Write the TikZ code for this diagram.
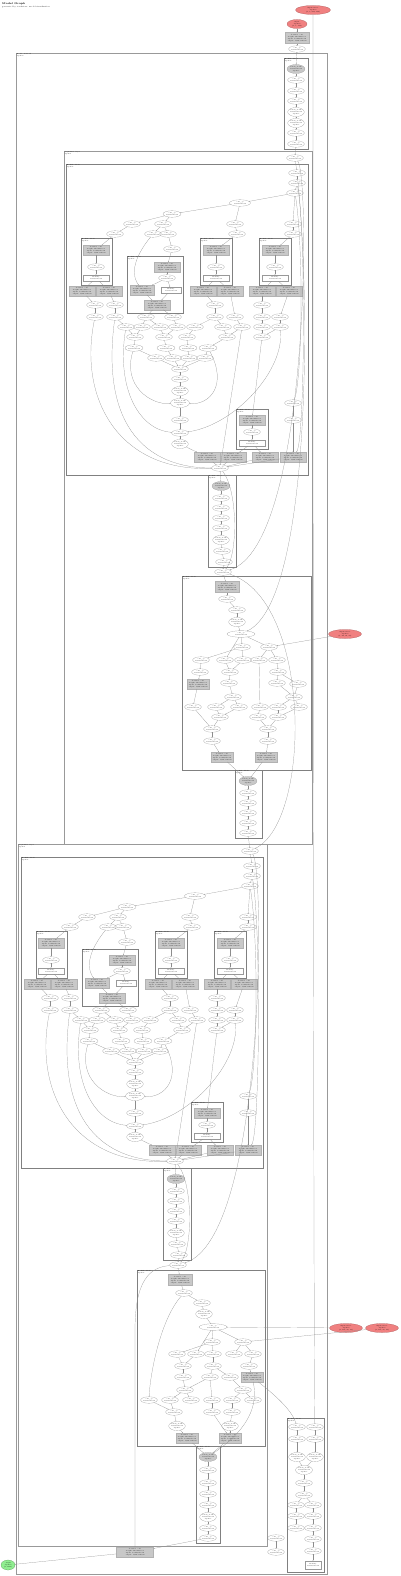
\documentclass[tikz,border=0pt]{standalone}
\usetikzlibrary{shapes.geometric,arrows.meta}
\definecolor{redn}{HTML}{F08080}
\definecolor{grn}{HTML}{90EE90}
\definecolor{gboxc}{HTML}{C8C8C8}
\newcommand\fs{\fontsize{1.5}{1.75}\selectfont}
\newcommand\tO{conv\_op\\1×64×56×56}
\newcommand\tT{batch\_norm\\1×64×56×56\\depth:3}
\newcommand\tG{Conv2d: conv\\weight: 64×64×3×3\\input: 1×64×56×56\\output: 1×64×56×56}
\newcommand\tW{Identity\\1×64×56×56}
\newcommand\tL{Module: block\\depth:2}
\tikzset{
 op/.style={ellipse, draw=black!45, line width=0.15pt, minimum width=15, minimum height=6.5, inner sep=0pt, font=\fs, align=center},
 gb/.style={rectangle, draw=black!30, fill=gboxc, line width=0.15pt, minimum width=26, minimum height=9.5, inner sep=0.2pt, font=\fs, align=center},
 wb/.style={rectangle, draw=black!40, line width=0.15pt, minimum width=26, minimum height=6, inner sep=0.2pt, font=\fs, align=center},
 clus/.style={draw=black!50, line width=0.25pt},
 bigclus/.style={draw=black!40, line width=0.9pt},
 lab/.style={anchor=north west, font=\fs, align=left, inner sep=0.5pt},
 e/.style={-{Stealth[length=0.9pt,width=0.7pt]}, draw=black!45, line width=0.2pt},
 rednode/.style={ellipse, fill=redn, draw=redn!70!black, line width=0.2pt, minimum width=33, minimum height=9, inner sep=0pt, font=\fs, align=center},
 grnnode/.style={ellipse, fill=grn, draw=grn!60!black, line width=0.2pt, minimum width=14, minimum height=10, inner sep=0pt, font=\fs, align=center},
}
\newcommand\Op[4][]{\node[op,#1] (#2) at (#3,#4) {\tO};}
\newcommand\Ot[4][]{\node[op,minimum height=9,#1] (#2) at (#3,#4) {\tT};}
\newcommand\Go[4][]{\node[op,fill=gboxc,minimum width=18,minimum height=9,#1] (#2) at (#3,#4) {\tT};}
\newcommand\Gb[4][]{\node[gb,#1] (#2) at (#3,#4) {\tG};}
\newcommand\Wb[4][]{\node[wb,#1] (#2) at (#3,#4) {\tW};}
\newcommand\Cl[4]{\draw[clus] (#1,#2) rectangle (#3,#4); \node[lab] at (#1,#2) {\tL};}
\newcommand\BigCl[4]{\draw[bigclus] (#1,#2) rectangle (#3,#4); \node[lab] at (#1,#2) {Sequential: layer\\depth:1};}

\newcommand\layerone[1]{%
\Cl{66}{164}{308}{475}
\Cl{81}{238}{112}{285}
\Cl{127}{256}{183}{313}
\Cl{200}{238}{232}{285}
\Cl{259}{238}{291}{285}
\Cl{236}{409}{268}{449}
\Cl{208}{475}{236}{567}
\Op{#1n0}{295}{158}
\Op{#1n1}{297}{173}
\Op{#1n2}{297}{183}
\Op{#1n3}{295}{193}
\Op[minimum width=21]{#1n4}{240}{203}
\Op[minimum width=18]{#1n5}{172}{214}
\Op{#1n6}{132}{224}\Op{#1n7}{163}{224}\Op{#1n8}{235}{224}\Op{#1n9}{293}{224}
\Op{#1n10}{115}{234}\Op[minimum width=14]{#1n11}{153}{234}\Op[minimum width=14]{#1n12}{168}{234}\Op{#1n13}{237}{234}\Op{#1n14}{293}{234}
\Op{#1n15}{172}{249}
\Gb{#1ga}{96}{250}\Op{#1ea}{96}{267}\Wb{#1wa}{96}{278}
\Gb{#1gb1}{167}{267}\Op{#1eb}{167}{278}\Gb[minimum width=24]{#1gb2}{142}{290}\Wb[minimum width=20]{#1wb}{171}{290}\Gb{#1gb3}{157}{305}
\Gb{#1gc}{216}{250}\Op{#1ec}{216}{267}\Wb{#1wc}{216}{278}
\Gb{#1gd}{275}{250}\Op{#1ed}{275}{267}\Wb{#1wd}{275}{278}
\Gb{#1g1}{82}{291}\Gb{#1g2}{109}{291}\Gb{#1g3}{203}{291}\Gb{#1g4}{230}{291}\Gb{#1g5}{262}{291}\Gb{#1g6}{289}{291}
\Op{#1e1}{95}{305}\Op{#1e2}{115}{305}\Op{#1e3}{215}{305}\Op{#1e4}{262}{305}
\Op{#1f1}{95}{317}\Op{#1f2}{115}{317}\Op{#1f3}{146}{317}\Op{#1f4}{173}{317}\Op{#1f5}{215}{317}\Op{#1f6}{235}{317}\Op{#1f7}{262}{317}\Op{#1f8}{280}{317}
\Op{#1h1}{126}{327}\Op{#1h2}{142}{327}\Op{#1h3}{160}{327}\Op{#1h4}{177}{327}\Op{#1h5}{195}{327}\Op{#1h6}{223}{327}\Op{#1h7}{242}{327}\Op{#1h8}{262}{327}\Op{#1h9}{280}{327}
\Op{#1i1}{135}{337}\Op{#1i2}{164}{337}\Op{#1i3}{187}{337}\Op{#1i4}{227}{337}\Op{#1i5}{262}{337}
\Op[minimum width=18]{#1j1}{134}{348}\Op[minimum width=18]{#1j2}{166}{348}\Op[minimum width=18]{#1j3}{188}{348}\Op[minimum width=18]{#1j4}{208}{348}
\Op{#1k1}{156}{358}\Op{#1k2}{173}{358}\Op{#1k3}{189}{358}\Op{#1k4}{205}{358}
\Op{#1m1}{180}{369}\Op{#1m2}{180}{379}\Ot{#1m3}{180}{391}\Ot[minimum width=19]{#1m4}{180}{403}\Op{#1m5}{180}{420}\Op{#1m6}{180}{433}\Ot{#1m7}{180}{444}
\Op{#1p1}{293}{403}\Op{#1p2}{293}{420}
\Gb{#1ge}{252}{420}\Op{#1ee}{252}{432}\Wb{#1we}{252}{443}
\Gb{#1q1}{207}{457}\Gb{#1q2}{233}{457}\Gb{#1q3}{265}{457}\Gb{#1q4}{293}{457}
\Op{#1s0}{220}{468}
\Go{#1t0}{221}{486}
\Op{#1t1}{221}{498}\Op{#1t2}{221}{508}\Op{#1t3}{221}{518}\Op{#1t4}{221}{528}\Ot{#1t5}{221}{540}\Op{#1t6}{222}{551}\Op{#1t7}{224}{562}
\Op{#1u0}{223}{572}
\foreach \a/\b in {n0/n1,n1/n2,n2/n3,n3/n4,n3/n9,n4/n5,n4/n8,n5/n6,n5/n7,n6/n10,n7/n11,n7/n12,n8/n13,n9/n14,n12/n15,n10/ga,ga/ea,ea/wa,wa/g1,wa/g2,n15/gb1,gb1/eb,eb/gb2,eb/wb,gb2/gb3,wb/gb3,n13/gc,gc/ec,ec/wc,wc/g3,wc/g4,n14/gd,gd/ed,ed/wd,wd/g5,wd/g6,g1/e1,g2/e2,g3/e3,g5/e4,e1/f1,e2/f2,gb3/f3,gb3/f4,e3/f5,g4/f6,e4/f7,g6/f8,f2/h1,f3/h2,f3/h3,f4/h4,f5/h5,f5/h6,f6/h7,f7/h8,f8/h9,h1/i1,h2/i1,h3/i2,h4/i2,h5/i3,h6/i4,h7/i4,h8/i5,h9/i5,i1/j1,i2/j2,i3/j3,i4/j4,j1/k1,j2/k2,j3/k3,j4/k4,k1/m1,k2/m1,k3/m1,k4/m1,m1/m2,m2/m3,m3/m4,m4/m5,m5/m6,m6/m7,m7/q1,p1/p2,p2/q4,i5/ge,ge/ee,ee/we,we/q2,we/q3,q1/s0,q2/s0,q3/s0,q4/s0,s0/t0,t0/t1,t1/t2,t2/t3,t3/t4,t4/t5,t5/t6,t6/t7,t7/u0,h7/s0}
 \draw[e] (#1\a) -- (#1\b);
\draw[e] (#1f1) .. controls (78,400) and (120,472) .. (#1s0);
\draw[e] (#1f2) .. controls (100,430) and (150,468) .. (#1s0);
\draw[e] (#1j1) .. controls (122,385) and (150,405) .. (#1m4);
\draw[e] (#1j4) .. controls (228,385) and (210,405) .. (#1m4);
\draw[e] (#1h1) .. controls (116,390) and (140,430) .. (#1m6);
\draw[e] (#1h9) .. controls (285,370) and (235,425) .. (#1m6);
\draw[e] (#1n3) .. controls (304,250) and (302,380) .. (#1p1);
\draw[e] (#1n2) .. controls (306,230) and (305,440) .. (#1q4);
\draw[e] (#1n11) .. controls (140,250) and (128,270) .. (#1gb2);
\draw[e] (#1s0) .. controls (238,490) and (238,555) .. (#1u0);
\draw[e] (#1n0) .. controls (310,175) and (310,545) .. (#1u0);
}

\begin{document}
\begin{tikzpicture}[x=1pt,y=-1pt]
\useasboundingbox (0,0) rectangle (400,1576);
\node[anchor=north west, inner sep=0pt, align=left, font=\fontsize{2.6}{3}\selectfont\bfseries] (title) at (2,2) {Model Graph\\\fontsize{1.8}{2.2}\selectfont\mdseries generated by torchview: model visualization};

% top inputs
\node[rednode, minimum width=35] (red1) at (313,10) {input-tensor\\depth:0\\(1, 3, 224, 224)};
\node[rednode, minimum width=20] (red2) at (297,24) {input\\depth:0\\(1, 3, 224)};
\Gb[minimum width=24, minimum height=11]{gb0}{297}{38}
\Op{op0}{297}{49}

% outer frame
\draw[bigclus] (16,53) rectangle (327,1574);
\node[lab] at (16,53) {Model: network\\depth:0};

% top column cluster
\Cl{284}{58}{308}{149}
\Go{col0}{296}{69}
\Op{col1}{296}{80}\Op{col2}{296}{91}\Op{col3}{296}{101}\Ot{col4}{296}{112}\Ot{col5}{296}{123}\Op{col6}{296}{133}\Op{col7}{296}{144}
\foreach \a/\b in {red2/gb0,gb0/op0,op0/col0,col0/col1,col1/col2,col2/col3,col3/col4,col4/col5,col5/col6,col6/col7}
 \draw[e] (\a) -- (\b);

% ===== Layer A =====
\BigCl{64}{151}{312}{844}
\layerone{a}
\draw[e] (col7) -- (an0);
% A3
\Cl{182}{576}{311}{770}
\Gb[minimum width=24,minimum height=11]{av0}{227}{587}
\Op{av1}{227}{599}\Op{av2}{237}{610}\Ot{av3}{237}{622}\Op[minimum width=28]{av4}{241}{634}
\Op{av5}{242}{647}\Op{av6}{269}{647}
\Op{aw1}{201}{660}\Op{aw2}{225}{660}\Op{aw3}{243}{660}\Op{aw4}{259}{660}\Op{aw5}{277}{660}
\Op{ax1}{200}{672}\Op{ax2}{230}{672}\Op{ax3}{278}{672}
\Gb[minimum width=22]{ay1}{198}{684}\Op{ay2}{229}{683}\Op{ay3}{277}{683}\Op{ay4}{298}{684}
\Op{az1}{233}{697}\Op{az2}{294}{697}
\Op{aa1}{193}{707}\Op{aa2}{216}{707}\Op{aa3}{239}{707}\Op{aa4}{260}{707}\Op{aa5}{278}{707}\Op{aa6}{299}{707}
\Op{ab1}{220}{717}\Op{ab2}{258}{717}\Op{ab3}{278}{717}
\Op{ac1}{212}{729}\Op{ac2}{268}{729}
\Op{ad1}{212}{741}\Op{ad2}{268}{741}
\Gb[minimum width=22]{ae1}{222}{757}\Gb[minimum width=22]{ae2}{266}{757}
% A4
\Cl{235}{770}{262}{838}
\Go{ag0}{248}{781}
\Op{ag1}{248}{793}\Op{ag2}{248}{803}\Op{ag3}{248}{813}\Op{ag4}{248}{823}\Op{ag5}{248}{833}
\foreach \a/\b in {au0/av0,av0/av1,av1/av2,av2/av3,av3/av4,av4/av5,av4/av6,av4/aw2,av5/aw1,av5/aw3,av6/aw4,av6/aw5,aw1/ax1,aw2/ax2,aw3/ax2,aw5/ax3,ax1/ay1,ax2/ay2,ax3/ay3,ax3/ay4,ay1/aa1,ay2/az1,az1/aa2,az1/aa3,aw4/aa4,ay3/az2,ay4/az2,az2/aa5,az2/aa6,aa2/ab1,aa3/ab1,aa4/ab2,aa5/ab3,aa6/ab3,ab1/ac1,aa1/ac1,ab2/ac2,ab3/ac2,ac1/ad1,ac2/ad2,ad1/ae1,ad2/ae2,ae1/ag0,ae2/ag0,ag0/ag1,ag1/ag2,ag2/ag3,ag3/ag4,ag4/ag5}
 \draw[e] (\a) -- (\b);
\node[rednode] (redA) at (345,634) {input-tensor\\depth:0\\(1, 64, 56, 56)};
\draw[e] (redA) -- (av6);
\draw[e] (an1) .. controls (311,300) and (311,600) .. (av4);

% ===== Layer B =====
\BigCl{18}{844}{267}{1546}
\begin{scope}[shift={(-45,693)}]
\layerone{b}
\end{scope}
\draw[e] (ag5) -- (bn0);
\draw[e] (au0) .. controls (312,600) and (312,820) .. (bn0);
% B3
\Cl{137}{1270}{265}{1446}
\Gb[minimum width=24,minimum height=11]{bv0}{180}{1280}
\Op{bv1}{184}{1293}\Op{bv2}{202}{1303}\Ot{bv3}{204}{1314}\Op[minimum width=28]{bv4}{213}{1327}
\Op{bv5}{212}{1342}\Op{bv6}{243}{1342}
\Op[minimum width=14]{bw1}{177}{1354}\Op[minimum width=14]{bw2}{196}{1354}\Op[minimum width=14]{bw3}{213}{1354}\Op{bw4}{234}{1354}\Op{bw5}{253}{1354}
\Op{bx1}{183}{1366}\Op{bx2}{213}{1366}\Op{bx3}{249}{1366}
\Op{by1}{183}{1377}\Op{by2}{210}{1377}\Op{by3}{230}{1377}\Gb[minimum width=22]{bgr}{252}{1377}
\Op{bz1}{185}{1390}\Op{bz2}{243}{1390}
\Op{ba1}{149}{1400}\Op{ba2}{170}{1400}\Op{ba3}{191}{1400}\Op{ba4}{212}{1400}\Op{ba5}{232}{1400}\Op{ba6}{253}{1400}
\Op{bb1}{174}{1412}\Op{bb2}{212}{1412}\Op{bb3}{232}{1412}
\Ot{bc1}{177}{1426}\Ot{bc2}{230}{1426}
\Gb[minimum width=22]{bd1}{187}{1438}\Gb[minimum width=22]{bd2}{230}{1438}
% B4
\Cl{196}{1446}{220}{1543}
\Go{bg0}{208}{1457}
\Op{bg1}{208}{1470}\Op{bg2}{208}{1483}\Op{bg3}{208}{1494}\Op{bg4}{208}{1505}\Ot{bg5}{208}{1517}\Op{bg6}{208}{1528}\Op{bg7}{208}{1538}
\foreach \a/\b in {bu0/bv0,bv0/bv1,bv1/bv2,bv2/bv3,bv3/bv4,bv4/bv5,bv4/bv6,bv4/bw2,bv5/bw1,bv5/bw3,bv6/bw4,bv6/bw5,bw1/bx1,bw2/bx1,bw3/bx2,bw5/bx3,bx1/by1,bx2/by2,bx2/by3,bx3/bgr,by1/bz1,by2/bz1,by3/bz2,bz1/ba2,bz1/ba3,by2/ba4,bz2/ba5,bz2/ba6,ba2/bb1,ba4/bb2,ba5/bb3,bb1/bc1,bb3/bc2,bb2/bd2,bc1/bd1,bc2/bd2,bd1/bg0,bd2/bg0,bg0/bg1,bg1/bg2,bg2/bg3,bg3/bg4,bg4/bg5,bg5/bg6,bg6/bg7}
 \draw[e] (\a) -- (\b);
\draw[e] (bv1) .. controls (160,1320) and (150,1375) .. (ba1);
\draw[e] (ba1) -- (bb1);
\draw[e] (bgr) .. controls (262,1420) and (225,1445) .. (bg0);
\node[rednode] (redB1) at (346,1328) {input-tensor\\depth:0\\(1, 128, 28, 28)};
\node[rednode] (redB2) at (382,1328) {input-tensor\\depth:0\\(1, 128, 28, 28)};
\draw[e] (redB1) -- (bv4);
\draw[e] (redB2) -- (bv6);

% final
\Gb[minimum width=37,minimum height=10]{fgb}{135}{1552}
\draw[e] (bg7) -- (fgb);
\draw[e] (bu0) .. controls (150,1267) and (135,1280) .. (135,1330) -- (fgb);
\node[grnnode] (out) at (8,1565) {output\\depth:0\\(1, 1000)};
\draw[e] (fgb) -- (out);

% C cluster
\Cl{287}{1418}{324}{1572}
\Op{cq1}{297}{1427}\Op{cq2}{315}{1427}
\Op{cq3}{297}{1439}\Op{cq4}{315}{1439}
\Ot{cq5}{297}{1457}\Ot{cq6}{315}{1457}
\Ot[minimum width=17]{cm1}{304}{1470}\Op{cm2}{304}{1483}\Op{cm3}{304}{1495}
\Op{cl1}{296}{1505}\Op{cr1}{313}{1505}
\Op{cl2}{296}{1516}\Op{cr2}{313}{1516}
\Op{cl3}{296}{1528}\Op{cr3}{313}{1528}
\Op{cr4}{313}{1539}\Op{cr5}{313}{1551}
\Wb[minimum width=16,minimum height=8]{cwb}{313}{1565}
\foreach \a/\b in {cq1/cq3,cq2/cq4,cq3/cq5,cq4/cq6,cq5/cm1,cq6/cm1,cm1/cm2,cm2/cm3,cm3/cl1,cm3/cr1,cl1/cl2,cl2/cl3,cr1/cr2,cr2/cr3,cr3/cr4,cr4/cr5,cr5/cwb}
 \draw[e] (\a) -- (\b);
\draw[e] (red1) .. controls (313,800) and (314,1400) .. (cq2);
\draw[e] (bgr) .. controls (275,1395) and (292,1410) .. (cq1);
\Op{eo1}{276}{1538}\Op{eo2}{276}{1552}
\draw[e] (eo1) -- (eo2);
\end{tikzpicture}
\end{document}
